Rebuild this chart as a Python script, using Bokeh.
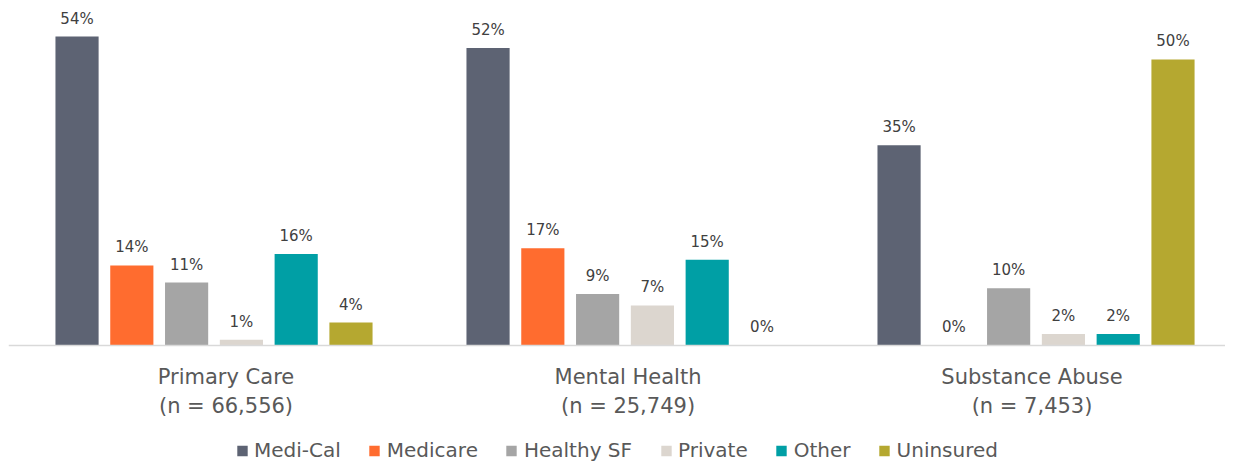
from bokeh.plotting import figure
from bokeh.models import ColumnDataSource, Range1d, Legend, LegendItem, Span
from bokeh.transform import dodge
from bokeh.core.properties import value
from bokeh.embed import file_html
from bokeh.resources import INLINE

categories = ["Primary Care", "Mental Health", "Substance Abuse"]
cat_n = ["(n = 66,556)", "(n = 25,749)", "(n = 7,453)"]
series = ["Medi-Cal", "Medicare", "Healthy SF", "Private", "Other", "Uninsured"]
colors = ["#5D6373", "#FF6C2F", "#A5A5A5", "#DCD6CF", "#009FA5", "#B5A830"]
values = {
    "Medi-Cal":   [54, 52, 35],
    "Medicare":   [14, 17, 0],
    "Healthy SF": [11, 9, 10],
    "Private":    [1, 7, 2],
    "Other":      [16, 15, 2],
    "Uninsured":  [4, 0, 50],
}

FONT = "DejaVu Sans"
xc = [i + 0.5 for i in range(len(categories))]
label_dx = [12, 3, -4]  # pixel nudges for category labels

p = figure(width=1225, height=462, output_backend="svg", toolbar_location=None,
           x_range=Range1d(0, 2.961), y_range=Range1d(-20.45, 60.3),
           min_border=0, min_border_left=8, outline_line_color=None)
p.xaxis.visible = False
p.yaxis.visible = False
p.xgrid.visible = False
p.ygrid.visible = False

step = 0.1333
bw = 0.105
items = []
for k, s in enumerate(series):
    off = (k - 2.5) * step
    src = ColumnDataSource(dict(x=xc, top=values[s],
                                lab=[f"{v}%" for v in values[s]]))
    r = p.vbar(x=dodge("x", off, range=p.x_range), top="top", width=bw, bottom=0,
               source=src, fill_color=colors[k], line_color=None)
    p.text(x=dodge("x", off, range=p.x_range), y="top", text="lab", source=src,
           text_align="center", text_baseline="bottom", y_offset=-9,
           text_font=value(FONT), text_font_size="15px", text_color="#404040")
    items.append(LegendItem(label=s, renderers=[r]))

p.add_layout(Span(location=0, dimension="width", line_color="#D9D9D9", line_width=1.5))

src_c = ColumnDataSource(dict(x=xc, name=categories, n=cat_n, dx=label_dx))
for col, yo in (("name", 32), ("n", 61)):
    p.text(x="x", y=0, text=col, source=src_c, text_align="center",
           text_baseline="middle", y_offset=yo, x_offset="dx",
           text_font=value(FONT), text_font_size="21px", text_color="#595959")

legend = Legend(items=items, orientation="horizontal", location="bottom_center",
                background_fill_alpha=0, border_line_color=None,
                glyph_width=13, glyph_height=13, label_standoff=6, spacing=27,
                label_text_font=FONT, label_text_font_size="20px",
                label_text_color="#595959", margin=0, padding=0)
p.add_layout(legend)

open("out.html", "w").write(file_html(p, INLINE))
